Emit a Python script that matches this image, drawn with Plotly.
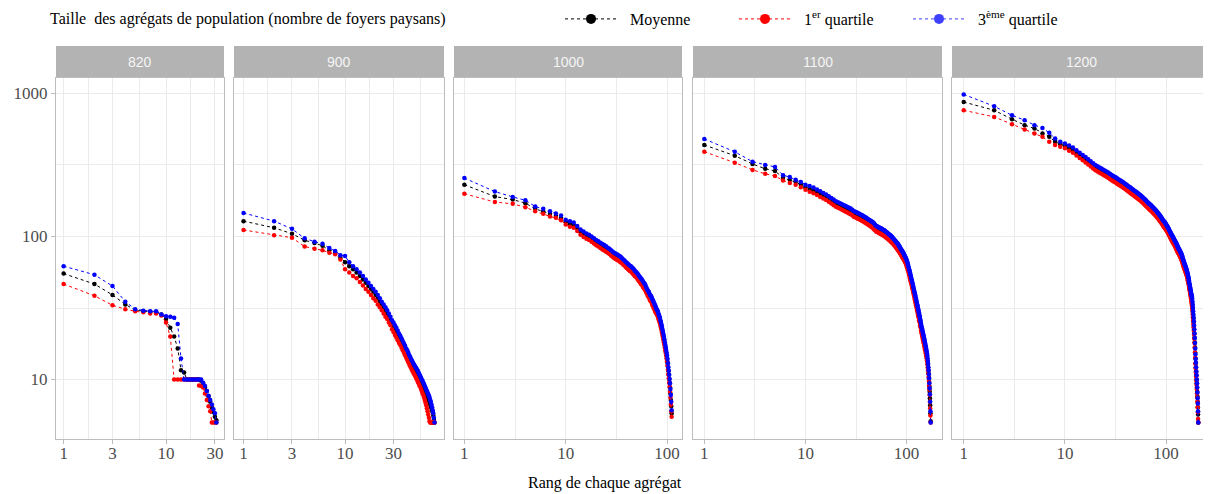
import math
import plotly.graph_objects as go

# ---------------- data ----------------
panels = ["820", "900", "1000", "1100", "1200"]

mean_820 = [55, 46.5, 39, 33.5, 30.5, 30, 29.8, 29.5, 28.5, 26.5,
            23, 20, 16.5, 11.6, 11.2, 10, 10, 10, 10, 10,
            10, 9.8, 9.4, 8.8, 8.3, 7.6, 7, 6.4, 5.9, 5.5, 5.2]
q1_820 = [46.5, 38.5, 33, 31, 30, 29.5, 29, 29, 28, 25,
          20, 10, 10, 10, 10, 10, 10, 10, 10, 10,
          9.1, 9, 8.8, 8, 7.2, 6.5, 6, 5, 5, 5, 5]
q3_820 = [62, 54, 45, 35, 31, 30.3, 30, 30, 28.5, 27.7,
          27.5, 27, 24.4, 14, 10, 10, 10, 10, 10, 10,
          10, 10, 9.5, 9, 8.3, 7.7, 7.2, 6.7, 6.2, 5.8, 5]

mean_900 = [128, 115, 104.5, 94, 90, 86, 80, 77, 71, 66,
            62, 59, 56, 53, 50, 47.5, 45, 43, 41, 39,
            37, 35, 33.5, 32, 30.5, 29, 27.5, 26, 24.5, 23.5,
            22.5, 21.5, 20.5, 19.7, 19, 18.2, 17.5, 16.8, 16.1, 15.5,
            15, 14.4, 13.9, 13.4, 13, 12.6, 12.3, 12, 11.7, 11.4,
            11.1, 10.8, 10.5, 10.2, 10, 9.7, 9.4, 9.2, 8.9, 8.7,
            8.4, 8.2, 7.9, 7.7, 7.5, 7.3, 7.1, 6.9, 6.7, 6.5,
            6.3, 6.1, 5.9, 5.6, 5.3, 5.0]
q1_900 = [111, 102, 98, 85, 82, 80, 77, 75, 69, 59,
          56, 53, 51, 48, 45.5, 43, 41, 39, 37, 35.5,
          33.5, 32, 30.5, 29, 27.5, 26.5, 25, 24, 22.5, 21.5,
          20.5, 19.7, 18.8, 18, 17.4, 16.7, 16, 15.4, 14.8, 14.2,
          13.7, 13.2, 12.7, 12.3, 11.9, 11.5, 11.2, 10.9, 10.6, 10.3,
          10, 9.7, 9.4, 9.1, 8.9, 8.6, 8.3, 8, 7.8, 7.5,
          7.2, 6.9, 6.6, 6.3, 6, 5.7, 5.4, 5.1, 5, 5,
          5, 5, 5, 5, 5, 5]
q3_900 = [146, 128, 113, 97, 92, 89, 83, 79, 74, 73,
          66, 62, 59, 56, 53, 50, 47.5, 45, 43, 41,
          39, 37, 35, 33.5, 32, 30.5, 29, 27.5, 26, 25,
          24, 23, 22, 21, 20.2, 19.4, 18.6, 17.9, 17.2, 16.5,
          16, 15.4, 14.8, 14.3, 13.8, 13.4, 13, 12.7, 12.4, 12.1,
          11.8, 11.5, 11.2, 10.9, 10.6, 10.3, 10, 9.8, 9.5, 9.3,
          9, 8.8, 8.5, 8.3, 8.1, 7.9, 7.7, 7.5, 7.2, 7,
          6.7, 6.4, 6.1, 5.8, 5.4, 5.0]

mean_1000 = [230, 190, 181, 171, 156, 150, 144, 139, 135, 127,
             123, 120, 114, 108, 104, 101, 99, 96, 93.5, 91,
             89, 87, 85, 83.5, 82, 80.5, 79, 77, 75.5, 74,
             73, 72, 71, 70, 69, 68, 66.5, 65.5, 64, 63,
             62, 61, 60, 59.5, 58.5, 57.5, 56.5, 55.5, 55, 54,
             53, 52, 51, 50, 49, 48.5, 47.5, 46.5, 45.5, 45,
             44, 43, 42, 41, 40, 39.5, 38.5, 37.5, 37, 36.5,
             35.5, 34.5, 34, 33, 32.5, 31.5, 31, 30.5, 30, 29.5,
             28.8, 28, 27.3, 26.6, 26, 25, 24.2, 23.3, 22.4, 21.5,
             20.7, 19.9, 19.1, 18.3, 17.5, 16.8, 16.1, 15.4, 14.7, 14,
             13.2, 12.3, 11.5, 10.8, 10.1, 9.5, 8.8, 8, 7.2, 6.5, 5.8]
q1_1000 = [199, 174, 169, 160, 150, 144, 138, 135, 130, 121,
           117, 115, 109, 103, 99, 96.5, 94.5, 91.7, 89.3, 86.9,
           85, 83, 81.2, 79.7, 78.3, 76.9, 75.4, 73.5, 72.1, 70.7,
           69.7, 68.8, 67.8, 66.9, 65.9, 64.9, 63.5, 62.6, 61.1, 60.2,
           59.2, 58.3, 57.3, 56.8, 55.9, 54.9, 54, 53, 52.5, 51.6,
           50.6, 49.7, 48.7, 47.8, 46.8, 46.3, 45.4, 44.4, 43.5, 43,
           42, 41.1, 40.1, 39.2, 38.2, 37.7, 36.8, 35.8, 35.3, 34.9,
           33.9, 32.9, 32.5, 31.5, 31, 30.1, 29.6, 29.1, 28.7, 28.2,
           27.5, 26.7, 26.1, 25.4, 24.8, 23.9, 23.1, 22.3, 21.4, 20.5,
           19.8, 19, 18.2, 17.5, 16.7, 16, 15.4, 14.7, 14, 13.4,
           12.6, 11.7, 10.9, 10.2, 9.5, 8.9, 8.2, 7.5, 6.7, 6, 5.5]
q3_1000 = [256, 206, 189, 179, 162, 156, 150, 144.6, 140, 131,
           128, 125, 118.5, 112, 108.5, 105, 103, 100, 97, 94.5,
           92.5, 90.5, 88.5, 87, 85.5, 83.5, 82, 80, 78.5, 77,
           76, 75, 74, 73, 72, 70.5, 69, 68, 66.5, 65.5,
           64.5, 63.5, 62.5, 62, 61, 60, 59, 57.5, 57, 56,
           55, 54, 53, 52, 51, 50.5, 49.5, 48.5, 47.5, 47,
           46, 44.5, 43.5, 42.5, 41.5, 41, 40, 39, 38.5, 38,
           37, 36, 35.5, 34.5, 34, 33, 32.5, 31.5, 31, 30.5,
           30, 29, 28.5, 27.7, 27, 26, 25.2, 24.3, 23.4, 22.5,
           21.6, 20.8, 20, 19.1, 18.3, 17.5, 16.8, 16.1, 15.4, 14.7,
           13.9, 13, 12.2, 11.5, 10.8, 10.1, 9.4, 8.6, 7.8, 7, 6.1]

mean_1100 = [436, 367, 321, 297, 287, 257, 248, 240, 230, 221,
             215, 210, 204, 198, 193, 188, 183, 178, 173, 169,
             166, 163.5, 161, 158.5, 156, 154, 152, 150, 147, 144,
             142.5, 141, 139.5, 138, 136.5, 135, 133.5, 132, 130.5, 129,
             127.5, 126, 125, 123.5, 122, 120.5, 119, 117, 115.5, 113.5,
             112.7, 111.9, 111.1, 110.3, 109.5, 108.7, 107.9, 107.1, 106.3, 105.5,
             104.6, 103.7, 102.8, 101.9, 101, 100.1, 99.2, 98.3, 97.4, 96.5,
             95.5, 94.5, 93.5, 92.5, 91.5, 90.5, 89.5, 88.5, 87.5, 86.5,
             85.5, 84.5, 83.5, 82.4, 81.3, 80.2, 79.1, 78, 77, 76,
             75, 74, 73, 72, 71, 70, 69, 67.9, 66.7, 65.5,
             64, 62.5, 61, 59.5, 58, 56.5, 55, 53.5, 52, 50.5,
             49.2, 48, 46.8, 45.6, 44.4, 43.2, 42, 40.8, 39.6, 38.5,
             37.5, 36.5, 35.6, 34.7, 33.8, 32.9, 32, 31.2, 30.3, 29.5,
             28.8, 28.1, 27.4, 26.7, 26, 25.3, 24.6, 23.9, 23.2, 22.6,
             22.1, 21.6, 21.1, 20.6, 20.1, 19.7, 19.3, 18.8, 18.4, 18,
             17.6, 17.2, 16.8, 16.4, 16, 15.6, 15.2, 14.8, 14.4, 14,
             13.4, 12.8, 12.2, 11.6, 11, 10.3, 9.6, 8.9, 8.2, 7.4,
             6.6, 5.8, 5.1]
q1_1100 = [391, 328, 292, 274, 265, 246, 236, 230, 221, 212,
           205, 200.5, 195, 189, 184, 179.5, 175, 170, 165, 161.5,
           158.5, 156, 154, 151.5, 149, 147, 145, 143, 140.5, 137.5,
           136, 134.5, 133, 132, 130.5, 129, 127.5, 126, 124.5, 123,
           122, 120.5, 119.5, 118, 116.5, 115, 113.5, 111.5, 110.5, 108.5,
           107.5, 107, 106, 105.5, 104.5, 104, 103, 102.5, 101.5, 101,
           100, 99, 98, 97.5, 96.5, 95.5, 94.5, 94, 93, 92,
           91, 90, 89.5, 88.5, 87.5, 86.5, 85.5, 84.5, 83.5, 82.5,
           81.5, 80.5, 79.5, 78.5, 77.5, 76.5, 75.5, 74.5, 73.5, 72.5,
           71.5, 70.5, 69.5, 69, 68, 67, 66, 65, 63.5, 62.5,
           61, 59.5, 58, 57, 55.5, 54, 52.5, 51, 49.5, 48,
           47, 46, 44.5, 43.5, 42.5, 41.5, 40, 39, 38, 36.5,
           36, 35, 34, 33, 32.5, 31.5, 30.5, 30, 29, 28,
           27.5, 27, 26, 25.5, 25, 24, 23.5, 23, 22, 21.5,
           21, 20.5, 20, 19.5, 19, 18.7, 18.3, 17.9, 17.5, 17.1,
           16.7, 16.3, 16, 15.6, 15.2, 14.8, 14.4, 14, 13.6, 13.3,
           12.7, 12.1, 11.6, 11, 10.4, 9.8, 9.1, 8.5, 7.8, 7,
           6.3, 5.6, 5]
q3_1100 = [480, 391, 333, 316, 306, 268, 260, 249, 240, 230,
           225, 219.5, 213, 207, 201.5, 196.5, 191, 186, 181, 176.5,
           173.5, 171, 168, 165.5, 163, 161, 159, 157, 153.5, 150.5,
           149, 147.5, 146, 144, 142.5, 141, 139.5, 138, 136.5, 135,
           133, 131.5, 130.5, 129, 127.5, 126, 124.5, 122.5, 120.5, 118.5,
           118, 117, 116, 115, 114.5, 113.5, 113, 112, 111, 110.5,
           109.5, 108.5, 107.5, 106.5, 105.5, 104.5, 103.5, 102.5, 102, 101,
           100, 99, 97.5, 96.5, 95.5, 94.5, 93.5, 92.5, 91.5, 90.5,
           89.5, 88.5, 87.5, 86, 85, 84, 82.5, 81.5, 80.5, 79.5,
           78.5, 77.5, 76.5, 75, 74, 73, 72, 71, 69.5, 68.5,
           67, 65.5, 64, 62, 60.5, 59, 57.5, 56, 54.5, 53,
           51.5, 50, 49, 47.5, 46.5, 45, 44, 42.5, 41.5, 40.5,
           39.5, 38.5, 37.5, 36.5, 35.5, 34.5, 33.5, 33, 32, 31,
           30.5, 29.5, 29, 28, 27.5, 26.5, 26, 25, 24.5, 23.8,
           23.2, 22.7, 22.2, 21.7, 21.2, 20.7, 20.3, 19.8, 19.4, 19,
           18.5, 18.1, 17.7, 17.3, 16.8, 16.4, 16, 15.6, 15.2, 14.8,
           14.1, 13.5, 12.9, 12.2, 11.6, 10.9, 10.2, 9.4, 8.7, 7.9,
           7, 6, 5]

mean_1200 = [871, 762, 660, 600, 568, 525, 498, 460, 441, 430,
             416, 402, 385, 370, 357, 345, 334, 323, 313, 304,
             298, 292, 287, 282, 277, 272, 268, 263, 259, 255,
             251, 248, 244, 241, 238, 235, 232, 229, 226, 223,
             220, 217, 214.5, 212, 209.5, 207, 205, 202.5, 200, 198,
             196, 194, 192, 190, 188, 186, 184, 182, 180, 178,
             176, 174, 172, 170, 168, 166.5, 165, 163, 161.5, 160,
             158.5, 157, 155.5, 154, 152.5, 151, 149.5, 148, 146.5, 145,
             143.5, 142, 140.5, 139, 137.5, 136, 134.5, 133, 131.5, 130,
             128.5, 127, 125.5, 124, 122.5, 121.5, 120.5, 119.5, 118, 117,
             115.6, 114.2, 112.8, 111.4, 110, 108.6, 107.2, 105.8, 104.4, 103,
             101.8, 100.6, 99.4, 98.2, 97, 96, 95, 94, 93, 92,
             91, 90, 89, 88, 87, 86, 85, 84, 83, 82,
             81, 80.2, 79.4, 78.6, 77.8, 77, 76.2, 75.4, 74.6, 74,
             73, 72, 71, 70, 69, 68, 67, 66, 65, 64,
             63, 62.2, 61.4, 60.6, 59.8, 59, 58.2, 57.4, 56.6, 56,
             55, 54, 53, 52, 51, 50, 49, 47.5, 46, 45,
             44, 43, 42, 41, 40, 39.2, 38.4, 37.6, 36.8, 36,
             34.4, 32.8, 31.2, 29.6, 28, 26.6, 25.2, 23.8, 22.4, 21,
             19.6, 18.2, 16.8, 15.4, 14, 13, 12.2, 11.4, 10.7, 10,
             9.4, 8.8, 8.2, 7.6, 7, 6.4, 5.7, 5]
q1_1200 = [762, 685, 609, 560, 525, 497, 459, 436, 424, 413,
           397, 384, 368, 353, 341, 329, 319, 308, 299, 290,
           285, 279, 274, 269, 265, 260, 256, 251, 247, 243.5,
           240, 237, 233, 230, 227, 224.5, 221.5, 218.5, 216, 213,
           210, 207, 205, 202.5, 200, 197.5, 196, 193.5, 191, 189,
           187, 185, 183.5, 181.5, 179.5, 177.5, 175.5, 174, 172, 170,
           168, 166, 164, 162.5, 160.5, 159, 157.5, 155.5, 154, 153,
           151.5, 150, 148.5, 147, 145.5, 144, 143, 141.5, 140, 138.5,
           137, 135.5, 134, 133, 131.5, 130, 128.5, 127, 125.5, 124,
           122.5, 121.5, 120, 118.5, 117, 116, 115, 114, 112.5, 111.5,
           110.5, 109, 107.5, 106.5, 105, 103.5, 102.5, 101, 99.5, 98.5,
           97, 96, 95, 94, 92.5, 91.5, 90.5, 90, 89, 88,
           87, 86, 85, 84, 83, 82, 81, 80, 79, 78,
           77.5, 76.5, 76, 75, 74.5, 73.5, 73, 72, 71.5, 70.5,
           69.5, 69, 68, 67, 66, 65, 64, 63, 62, 61,
           60, 59.5, 58.5, 58, 57, 56.5, 55.5, 55, 54, 53.5,
           52.5, 51.5, 50.5, 49.5, 48.5, 47.5, 46.5, 45.5, 44, 43,
           42, 41, 40, 39, 38, 37, 36, 35, 34, 33,
           31.6, 30.2, 28.7, 27.2, 25.8, 24.5, 23.2, 21.9, 20.6, 19.3,
           18, 16.7, 15.5, 14.2, 12.9, 12, 11.2, 10.5, 9.8, 9.2,
           8.6, 8, 7.5, 7, 6.4, 5.9, 5.3, 5]
q3_1200 = [984, 813, 703, 650, 600, 574, 530, 484, 459, 447,
           433, 418, 400, 385, 371, 359, 347, 336, 325.5, 316,
           310, 304, 298.5, 293, 288, 283, 279, 273.5, 269, 265,
           261, 258, 254, 250.5, 247.5, 244.5, 241, 238, 235, 232,
           229, 225.5, 223, 220.5, 218, 215, 213, 210.5, 208, 206,
           204, 202, 199.5, 197.5, 195.5, 193.5, 191.5, 189, 187, 185,
           183, 181, 179, 177, 174.5, 173, 171.5, 169.5, 168, 166.5,
           165, 163.5, 161.5, 160, 158.5, 157, 155.5, 154, 152.5, 151,
           149, 147.5, 146, 144.5, 143, 141.5, 140, 138.5, 137, 135,
           133.5, 132, 130.5, 129, 127.5, 126.5, 125.5, 124.5, 122.5, 121.5,
           120, 119, 117.5, 116, 114.5, 113, 111.5, 110, 108.5, 107,
           106, 104.5, 103.5, 102, 101, 100, 99, 98, 96.5, 95.5,
           94.5, 93.5, 92.5, 91.5, 90.5, 89.5, 88.5, 87.5, 86.5, 85.5,
           84, 83.5, 82.5, 81.5, 81, 80, 79, 78.5, 77.5, 77,
           76, 75, 74, 73, 72, 70.5, 69.5, 68.5, 67.5, 66.5,
           65.5, 64.5, 64, 63, 62, 61.5, 60.5, 59.5, 59, 58,
           57, 56, 55, 54, 53, 52, 51, 49.5, 48, 47,
           46, 45, 44, 43, 42, 41, 40, 39.5, 38.5, 38,
           36.8, 35.1, 33.4, 31.7, 30, 28.5, 27, 25.5, 24, 22.5,
           21, 19.5, 18, 16.5, 15, 13.9, 13.1, 12.2, 11.4, 10.7,
           10, 9.4, 8.8, 8.1, 7.4, 6.8, 6, 5]

series_mean = [mean_820, mean_900, mean_1000, mean_1100, mean_1200]
series_q1 = [q1_820, q1_900, q1_1000, q1_1100, q1_1200]
series_q3 = [q3_820, q3_900, q3_1000, q3_1100, q3_1200]

x_ticks_small = [1, 3, 10, 30]
x_ticks_large = [1, 10, 100]
y_ticks = [10, 100, 1000]

legend_names = ["Moyenne", "1<sup>er</sup> quartile", "3<sup>ème</sup> quartile"]
legend_title = "Taille\u00a0 des agrégats de population (nombre de foyers paysans)"
x_title = "Rang de chaque agrégat"

# ---------------- styles / layout ----------------
OFF = 8                      # the page body margin shifts the figure by 8 px
W, H = 1211 - OFF, 494 - OFF
colors = ["#000000", "#FF0000", "#0000FF"]
legend_colors = ["#000000", "#FF0000", "#4040FF"]
SERIF = "Liberation Serif"
SANS = "Liberation Sans"
GRID = "#EBEBEB"
BORDER = "#BDBDBD"
TICKC = "#4D4D4D"
NBSP = "\u00a0\u00a0"


def px(v):
    return v - OFF


def fx(v):
    return px(v) / W


def fy(v):
    return (H - px(v)) / H


dom_px = [(56, 224), (234, 444), (454, 682), (693, 942), (952, 1210)]
panel_top, panel_bot = 78, 439
strip_top = 46
ydom = [fy(panel_bot), fy(panel_top)]

all_vals = [v for grp in (series_mean + series_q1 + series_q3) for v in grp]
ylo, yhi = math.log10(min(all_vals)), math.log10(max(all_vals))
yspan = yhi - ylo
yrange = [ylo - 0.05 * yspan, yhi + 0.05 * yspan]

fig = go.Figure()
layout = dict(
    width=W, height=H, margin=dict(l=0, r=0, t=0, b=0, autoexpand=False),
    paper_bgcolor="white", plot_bgcolor="white",
    showlegend=True,
)
shapes, annotations = [], []

for i, name in enumerate(panels):
    k = "" if i == 0 else str(i + 1)
    xa, ya = "x" + k, "y" + k
    nmax = max(len(series_mean[i]), len(series_q1[i]), len(series_q3[i]))
    xspan = math.log10(nmax)
    xr = [-0.05 * xspan, 1.05 * xspan]
    xt = x_ticks_small if i < 2 else x_ticks_large
    if i < 2:
        minor = [math.sqrt(3), math.sqrt(30), math.sqrt(300), math.sqrt(3000)]
    else:
        minor = [math.sqrt(10), math.sqrt(1000)]
    d0, d1 = fx(dom_px[i][0]), min(1.0, fx(dom_px[i][1]))
    layout["xaxis" + k] = dict(
        domain=[d0, d1], anchor=ya, type="log", range=xr,
        tickvals=xt, ticktext=[str(t) for t in xt],
        showgrid=True, gridcolor=GRID, gridwidth=1,
        minor=dict(tickvals=minor, showgrid=True, gridcolor=GRID, gridwidth=1, ticks=""),
        showline=True, linecolor=BORDER, linewidth=1, mirror=True,
        ticks="outside", ticklen=4, tickcolor=BORDER, ticklabelstandoff=-5,
        tickfont=dict(family=SERIF, size=17, color=TICKC),
        zeroline=False, fixedrange=True, automargin=False,
    )
    layout["yaxis" + k] = dict(
        domain=ydom, anchor=xa, type="log", range=yrange,
        tickvals=y_ticks, ticktext=[str(t) for t in y_ticks],
        showticklabels=(i == 0), ticks="outside" if i == 0 else "",
        ticklen=4, tickcolor=BORDER,
        tickfont=dict(family=SERIF, size=17, color=TICKC),
        showgrid=True, gridcolor=GRID, gridwidth=1,
        minor=dict(tickvals=[10 ** 1.5, 10 ** 2.5], showgrid=True, gridcolor=GRID, gridwidth=1, ticks=""),
        showline=True, linecolor=BORDER, linewidth=1, mirror=True,
        zeroline=False, fixedrange=True, automargin=False,
    )
    # strip
    shapes.append(dict(type="rect", xref="paper", yref="paper",
                       x0=d0, x1=d1, y0=fy(panel_top), y1=fy(strip_top),
                       fillcolor="#B3B3B3", line=dict(width=0), layer="below"))
    annotations.append(dict(text=name, xref="paper", yref="paper",
                            x=(d0 + d1) / 2, y=fy((strip_top + panel_top) / 2),
                            xanchor="center", yanchor="middle", showarrow=False,
                            font=dict(family=SANS, size=14, color="#F5F5F5")))
    for s, c in zip((series_mean[i], series_q1[i], series_q3[i]), colors):
        fig.add_trace(go.Scatter(
            x=list(range(1, len(s) + 1)), y=s, xaxis=xa, yaxis=ya,
            mode="lines+markers", showlegend=False, hoverinfo="skip",
            line=dict(color=c, width=1, dash="dot"),
            marker=dict(color=c, size=4.5),
        ))

# legend-only entries
for nm, c in zip(legend_names, legend_colors):
    fig.add_trace(go.Scatter(
        x=[None], y=[None], xaxis="x", yaxis="y", name=NBSP + nm,
        mode="lines+markers", line=dict(color=c, width=1, dash="dot"),
        marker=dict(color=c, size=10),
    ))

annotations.append(dict(text=legend_title, xref="paper", yref="paper",
                        x=fx(48), y=fy(19), xanchor="left", yanchor="middle",
                        showarrow=False, font=dict(family=SERIF, size=16, color="black")))
annotations.append(dict(text=x_title, xref="paper", yref="paper",
                        x=fx(605), y=fy(483), xanchor="center", yanchor="middle",
                        showarrow=False, font=dict(family=SERIF, size=16, color="black")))

layout["legend"] = dict(
    orientation="h", x=fx(560), y=fy(19), xanchor="left", yanchor="middle",
    font=dict(family=SERIF, size=16, color="black"),
    bgcolor="rgba(0,0,0,0)", itemwidth=52, entrywidth=107, entrywidthmode="pixels",
    itemclick=False, itemdoubleclick=False,
)
layout["shapes"] = shapes
layout["annotations"] = annotations
fig.update_layout(**layout)
fig.write_html("out.html")
